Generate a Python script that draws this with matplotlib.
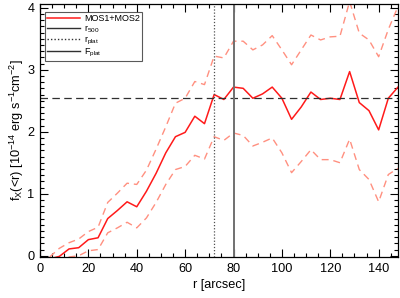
import numpy as np
import matplotlib
matplotlib.use('Agg')
import matplotlib.pyplot as plt
from matplotlib.ticker import MultipleLocator

plt.rcParams['font.family'] = ['Liberation Sans', 'DejaVu Sans']
plt.rcParams['mathtext.fontset'] = 'custom'
plt.rcParams['mathtext.rm'] = 'Liberation Sans'
plt.rcParams['mathtext.it'] = 'Liberation Sans'

# radius bins [arcsec]
r = [4, 8, 12, 16, 20, 24, 28, 32, 36, 40, 44, 48, 52, 56, 60, 64, 68, 72, 76,
     80, 84, 88, 92, 96, 100, 104, 108, 112, 116, 120, 124, 128, 132, 136, 140,
     144, 148]

# cumulative flux, MOS1+MOS2
flux = [-0.05, -0.01, 0.11, 0.13, 0.26, 0.29, 0.60, 0.73, 0.87, 0.79, 1.04,
        1.33, 1.66, 1.92, 1.99, 2.25, 2.13, 2.60, 2.52, 2.72, 2.70, 2.54, 2.61,
        2.72, 2.54, 2.20, 2.40, 2.64, 2.52, 2.54, 2.52, 2.97, 2.47, 2.34, 2.03,
        2.54, 2.72]

flux_hi = [-0.02, 0.12, 0.21, 0.27, 0.39, 0.46, 0.86, 1.01, 1.17, 1.15, 1.38,
           1.72, 2.08, 2.46, 2.54, 2.81, 2.76, 3.22, 3.19, 3.46, 3.46, 3.32,
           3.40, 3.55, 3.32, 3.08, 3.32, 3.56, 3.48, 3.53, 3.54, 4.10, 3.59,
           3.48, 3.21, 3.65, 4.02]

flux_lo = [-0.25, -0.12, -0.02, 0.00, 0.08, 0.10, 0.37, 0.45, 0.54, 0.45, 0.61,
           0.86, 1.15, 1.39, 1.44, 1.62, 1.56, 1.92, 1.86, 1.98, 1.94, 1.77,
           1.83, 1.90, 1.66, 1.34, 1.52, 1.71, 1.55, 1.55, 1.50, 1.88, 1.39,
           1.23, 0.87, 1.31, 1.41]

r_plat = 72
r_500 = 80
f_plat = 2.55

fig = plt.figure(figsize=(4.0, 2.98), dpi=100)
ax = fig.add_axes([0.1, 0.1376, 0.895, 0.849])

ax.plot(r, flux_hi, color='#ff9080', linestyle=(0, (5, 3.5)), linewidth=1.0)
ax.plot(r, flux_lo, color='#ff9080', linestyle=(0, (5, 3.5)), linewidth=1.0)
ax.plot(r, flux, color='#ff1a1a', linewidth=1.1, label='MOS1+MOS2')
ax.axhline(f_plat, color='#303030', linestyle=(0, (6, 3.5)), linewidth=0.9)
ax.axvline(r_plat, color='#505050', linestyle=(0, (1, 1.5)), linewidth=0.9)
ax.axvline(r_500, color='#707070', linewidth=1.4)

# legend proxies
ax.plot([], [], color='#303030', linewidth=1.0, label='r$_{500}$')
ax.plot([], [], color='#303030', linestyle=(0, (1, 1.5)), linewidth=1.0,
        label='r$_{plat}$')
ax.plot([], [], color='#303030', linewidth=1.0, label='F$_{plat}$')

leg = ax.legend(loc='upper left', bbox_to_anchor=(0.014, 0.968),
                fontsize=6.5, frameon=True, fancybox=False,
                edgecolor='#303030', borderpad=0.25, labelspacing=0.0,
                handlelength=3.6, handletextpad=0.45, borderaxespad=0)
leg.get_frame().set_linewidth(0.8)

ax.set_xlim(0, 148)
ax.set_ylim(-0.02, 4.06)
ax.xaxis.set_major_locator(MultipleLocator(20))
ax.xaxis.set_minor_locator(MultipleLocator(5))
ax.yaxis.set_major_locator(MultipleLocator(1))
ax.yaxis.set_minor_locator(MultipleLocator(0.1))
ax.tick_params(which='both', direction='in', top=True, right=True,
               labelsize=9.2, width=0.8)
ax.tick_params(which='major', length=6, pad=4)
ax.tick_params(which='minor', length=3)
for s in ax.spines.values():
    s.set_linewidth(0.9)

ax.set_xlabel('r [arcsec]', fontsize=9.2, labelpad=3)
ax.set_ylabel('f$_X$(<r) [10$^{-14}$ erg s$^{-1}$cm$^{-2}$]', fontsize=9.2,
              labelpad=1)

plt.savefig('out.png', dpi=100)
